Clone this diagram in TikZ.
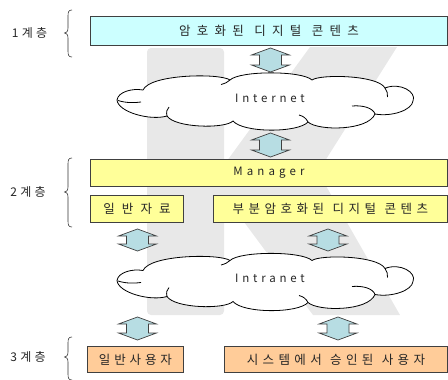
\documentclass[tikz,border=0pt]{standalone}
\usepackage{fontspec}
\newfontfamily\kr{Noto Sans CJK KR}
\definecolor{cyanbox}{RGB}{204,255,255}
\definecolor{yelbox}{RGB}{255,255,153}
\definecolor{orabox}{RGB}{255,204,153}
\definecolor{arrfill}{RGB}{183,221,227}
\definecolor{wm}{RGB}{232,232,232}
% letter-spaced text
\newcommand\lsp[2]{\addfontfeature{LetterSpace=#1}#2}
\newcommand\udarr[3]{%
  \draw[arr] (#1,#2) -- (#1+19,#2+7) -- (#1+11,#2+7) -- (#1+11,#3-7) -- (#1+19,#3-7)
    -- (#1,#3) -- (#1-19,#3-7) -- (#1-11,#3-7) -- (#1-11,#2+7) -- (#1-19,#2+7) -- cycle;}
\newcommand\lbrc[3]{%
  \draw[brc] (72,#1) .. controls (68.5,#1) and (68,#1+2) .. (68,#1+6) -- (68,#3-5)
    .. controls (68,#3-1.5) and (66.5,#3) .. (64.5,#3)
    .. controls (66.5,#3) and (68,#3+1.5) .. (68,#3+5) -- (68,#2-6)
    .. controls (68,#2-2) and (68.5,#2) .. (72,#2);}
\newcommand\cloudpath{%
  \draw[cloudl, fill=white] (117,100) .. controls (118,92) and (132,88) .. (143,90)
    .. controls (150,74) and (220,73) .. (230,80)
    .. controls (240,70.5) and (302,70.5) .. (312,80)
    .. controls (320,74) and (378,75) .. (385,88)
    .. controls (400,82) and (417,92) .. (413,101)
    .. controls (412,110) and (392,117) .. (375,114)
    .. controls (368,131) and (318,131) .. (308,122)
    .. controls (298,133) and (243,133) .. (233,121)
    .. controls (225,129) and (175,128) .. (167,116)
    .. controls (150,121) and (118,112) .. cycle;
  \draw[cloudl] (118,100.5) .. controls (126,103) and (134,103) .. (141,102);
  \draw[cloudl] (230,80) .. controls (228,82) and (225,83.5) .. (221,84.5);
  \draw[cloudl] (385,88) .. controls (387,91) and (388,94) .. (387.5,97);
  \draw[cloudl] (375,114) .. controls (373,108) and (363,105) .. (352,106);
  \draw[cloudl] (308,122) .. controls (306,118) and (303,116) .. (299,115);
  \draw[cloudl] (167,116) .. controls (166,112) and (167,109) .. (169,107);}
\begin{document}
\begin{tikzpicture}[x=1pt,y=-1pt,
  box/.style={draw=black!75, line width=0.9pt, inner sep=0pt, anchor=north west},
  btxt/.style={font=\kr\fontsize{12.5}{14}\selectfont, text=black!85},
  ltxt/.style={font=\kr\fontsize{11.5}{13}\selectfont, text=black!85},
  lbl/.style={font=\kr\fontsize{12}{14}\selectfont, text=black!85},
  arr/.style={draw=black!75, line width=0.7pt, fill=arrfill},
  brc/.style={draw=black!80, line width=0.6pt},
  cloudl/.style={draw=black, line width=0.8pt},
]
\useasboundingbox (0,0) rectangle (448,380);
% watermark
\fill[wm, rounded corners=4] (147,48) rectangle (224,315);
\fill[wm] (310,47) -- (397,47) -- (318,172) -- (400,315) -- (313,315) -- (224,195) -- (224,165) -- cycle;

% layer labels
\node[lbl] (l1) at (29.5,33) {\lsp{27}{1계층}};
\node[lbl] (l2) at (28,192) {\lsp{27}{2계층}};
\node[lbl] (l3) at (28,357) {\lsp{27}{3계층}};
\lbrc{10}{57}{33}
\lbrc{158}{227}{192}
\lbrc{337}{380}{357}

% boxes
\node[box, fill=cyanbox, minimum width=357, minimum height=29, btxt] (enc) at (90,16)
  {\lsp{50}{암호화된\hspace{10.5pt}디지털\hspace{10.5pt}콘텐츠}};
\node[box, fill=yelbox, minimum width=357, minimum height=27, ltxt] (mgr) at (90,159)
  {\lsp{36}{Manager}};
\node[box, fill=yelbox, minimum width=93, minimum height=27, btxt] (gen) at (90,195)
  {\lsp{57}{일반자료}};
\node[box, fill=yelbox, minimum width=234, minimum height=27, btxt] (part) at (213,195)
  {\lsp{36}{부분암호화된\hspace{8.5pt}디지털\hspace{8.5pt}콘텐츠}};
\node[box, fill=orabox, minimum width=96, minimum height=26, btxt] (u1) at (87,346)
  {\lsp{31}{일반사용자}};
\node[box, fill=orabox, minimum width=223, minimum height=26, btxt] (u2) at (224,346)
  {\lsp{35}{시스템에서\hspace{8.4pt}승인된\hspace{8.4pt}사용자}};

% clouds
\cloudpath
\begin{scope}[shift={(0,180.5)}]\cloudpath\end{scope}
\node[ltxt] (inet) at (270,98) {\lsp{33}{Internet}};
\node[ltxt] (intra) at (270,278.5) {\lsp{33}{Intranet}};

% block arrows
\udarr{270.5}{48}{72}
\udarr{270.5}{133}{157}
\udarr{137.5}{229}{251}
\udarr{328}{229}{251}
\udarr{137.5}{317}{340}
\udarr{338}{317}{340}
\end{tikzpicture}
\end{document}
